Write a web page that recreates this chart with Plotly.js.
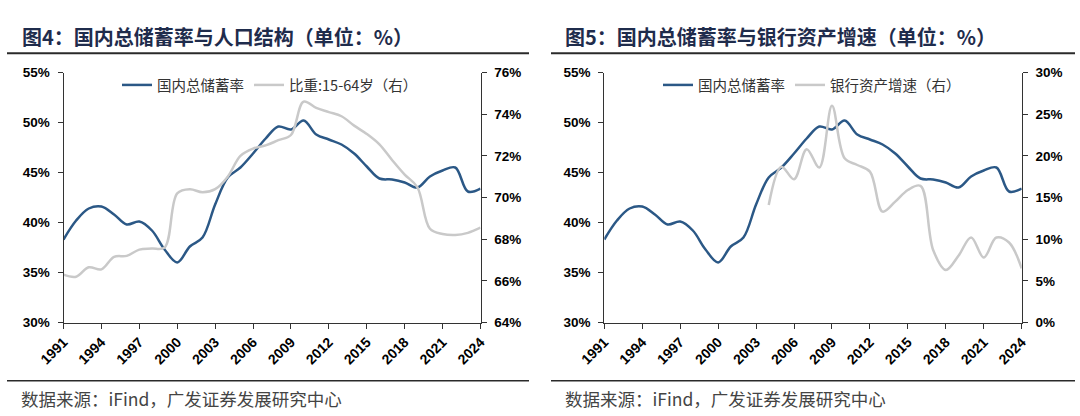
<!DOCTYPE html>
<html>
<head>
<meta charset="utf-8">
<script src="https://cdn.plot.ly/plotly-3.0.1.min.js"></script>
<style>
html,body{margin:0;padding:0;background:#fff;}
#chart{width:1080px;height:416px;}
</style>
</head>
<body>
<div id="chart"></div>
<script>
// ---- data ----
const years = [1991,1992,1993,1994,1995,1996,1997,1998,1999,2000,2001,2002,2003,2004,2005,2006,2007,2008,2009,2010,2011,2012,2013,2014,2015,2016,2017,2018,2019,2020,2021,2022,2023,2024];
const savingsRate = [38.3,40.2,41.4,41.6,40.8,39.8,40.1,39.2,37.3,36.0,37.6,38.5,41.8,44.5,45.5,46.9,48.4,49.6,49.3,50.2,48.8,48.3,47.8,46.9,45.6,44.4,44.3,44.0,43.5,44.6,45.2,45.5,43.1,43.4];
const workingAgeShare = [66.3,66.2,66.65,66.55,67.15,67.2,67.5,67.55,67.6,70.2,70.4,70.25,70.4,71.0,72.0,72.35,72.5,72.75,73.0,74.6,74.3,74.1,73.9,73.45,73.05,72.55,71.8,71.1,70.5,68.5,68.25,68.2,68.3,68.55];
const bankYears = [2004,2005,2006,2007,2008,2009,2010,2011,2012,2013,2014,2015,2016,2017,2018,2019,2020,2021,2022,2023,2024];
const bankAssetGrowth = [14.1,18.7,17.2,20.8,18.6,26.0,19.7,18.9,18.1,13.3,14.5,15.9,16.4,8.7,6.3,8.0,10.2,7.8,10.2,9.6,6.5];
const xTicks = [1991,1994,1997,2000,2003,2006,2009,2012,2015,2018,2021,2024];
const seriesNames = ["国内总储蓄率","比重:15-64岁（右）","银行资产增速（右）"];
const titles = ["图4：国内总储蓄率与人口结构（单位：%）","图5：国内总储蓄率与银行资产增速（单位：%）"];
const sourceText = "数据来源：iFind，广发证券发展研究中心";

// ---- styling ----
const W = 1080, H = 416;
const BLUE = "#2b5886", GREY = "#c9c9c9";
const px = v => v / W, py = v => 1 - v / H;
const yDom = [py(322.5), py(72.5)];
const yTickFont = {family: "Liberation Sans, Arial, sans-serif", size: 13.5, color: "#000", weight: "bold"};
const xTickFont = {family: "Liberation Sans, Arial, sans-serif", size: 14, color: "#000", weight: "bold"};
const cjk = "Noto Sans CJK SC, sans-serif";

function xAxis(domain, anchor) {
  return {domain, anchor, range: [1991, 2024], tickmode: "array", tickvals: xTicks,
    ticktext: xTicks.map(String), tickangle: -45, ticks: "outside", ticklen: 5, tickwidth: 1,
    tickcolor: "#333", showline: true, linecolor: "#333", linewidth: 1, showgrid: false,
    zeroline: false, tickfont: xTickFont, fixedrange: true};
}
function yAxis(range, dtick, anchor, extra) {
  return Object.assign({domain: yDom, anchor, range, dtick, tick0: range[0], ticksuffix: "%",
    ticks: "outside", ticklen: 5, tickwidth: 1, tickcolor: "#333", showline: true,
    linecolor: "#333", linewidth: 1, showgrid: false, zeroline: false, tickfont: yTickFont,
    ticklabelstandoff: 5, fixedrange: true}, extra || {});
}

const lineBase = {mode: "lines", line: {shape: "spline", smoothing: 1, width: 2.5}, hoverinfo: "skip"};
const traces = [
  Object.assign({}, lineBase, {x: years, y: savingsRate, name: seriesNames[0], xaxis: "x", yaxis: "y", legend: "legend", line: Object.assign({}, lineBase.line, {color: BLUE})}),
  Object.assign({}, lineBase, {x: years, y: workingAgeShare, name: seriesNames[1], xaxis: "x", yaxis: "y2", legend: "legend", line: Object.assign({}, lineBase.line, {color: GREY})}),
  Object.assign({}, lineBase, {x: years, y: savingsRate, name: seriesNames[0], xaxis: "x2", yaxis: "y3", legend: "legend2", line: Object.assign({}, lineBase.line, {color: BLUE})}),
  Object.assign({}, lineBase, {x: bankYears, y: bankAssetGrowth, name: seriesNames[2], xaxis: "x2", yaxis: "y4", legend: "legend2", line: Object.assign({}, lineBase.line, {color: GREY})})
];

const legendBase = {orientation: "h", yanchor: "middle", y: py(85), xanchor: "left",
  bgcolor: "rgba(0,0,0,0)", borderwidth: 0, itemgap: 38, tracegroupgap: 0,
  font: {family: cjk, size: 14.5, color: "#333"}};

function hline(x0, x1, y, w, c) {
  return {type: "line", xref: "paper", yref: "paper", x0: px(x0), x1: px(x1), y0: py(y), y1: py(y), line: {color: c, width: w}};
}

const layout = {
  width: W, height: H, margin: {l: 0, r: 0, t: 0, b: 0},
  paper_bgcolor: "#fff", plot_bgcolor: "#fff", showlegend: true,
  xaxis: xAxis([px(63.5), px(480.5)], "y"),
  yaxis: yAxis([30, 55], 5, "x"),
  yaxis2: yAxis([64, 76], 2, "x", {overlaying: "y", side: "right"}),
  xaxis2: xAxis([px(604.3), px(1021.7)], "y3"),
  yaxis3: yAxis([30, 55], 5, "x2"),
  yaxis4: yAxis([0, 30], 5, "x2", {overlaying: "y3", side: "right"}),
  legend: Object.assign({}, legendBase, {x: px(117)}),
  legend2: Object.assign({}, legendBase, {x: px(658)}),
  shapes: [
    hline(7, 529, 53.3, 2, "#2a2a2a"), hline(551, 1075, 53.3, 2, "#2a2a2a"),
    hline(7, 529, 380.7, 1.5, "#2a2a2a"), hline(551, 1075, 380.7, 1.5, "#2a2a2a")
  ],
  annotations: [
    {text: "<b>" + titles[0] + "</b>", xref: "paper", yref: "paper", x: px(20), y: py(36), xanchor: "left", yanchor: "middle", showarrow: false, font: {family: cjk, size: 20, color: "#1f2c4c"}},
    {text: "<b>" + titles[1] + "</b>", xref: "paper", yref: "paper", x: px(563), y: py(36), xanchor: "left", yanchor: "middle", showarrow: false, font: {family: cjk, size: 20, color: "#1f2c4c"}},
    {text: sourceText, xref: "paper", yref: "paper", x: px(19), y: py(398), xanchor: "left", yanchor: "middle", showarrow: false, font: {family: cjk, size: 17.5, color: "#444"}},
    {text: sourceText, xref: "paper", yref: "paper", x: px(563), y: py(398), xanchor: "left", yanchor: "middle", showarrow: false, font: {family: cjk, size: 17.5, color: "#444"}}
  ]
};

Plotly.newPlot("chart", traces, layout, {displayModeBar: false, staticPlot: true});
</script>
</body>
</html>
